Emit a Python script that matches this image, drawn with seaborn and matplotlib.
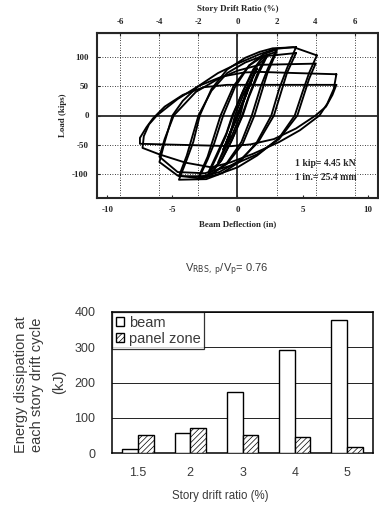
import numpy as np
import pandas as pd
import matplotlib
matplotlib.use("Agg")
import matplotlib.pyplot as plt
from matplotlib.patches import Patch
import seaborn as sns

# hysteresis cycles: (beam deflection in, load kips)
cyc_1 = [(0.56, 30), (0.0, 1), (-0.56, -29), (0.0, -1), (0.56, 30)]
cyc_2 = [(0.75, 40), (0.05, 3), (-0.75, -39), (-0.05, -3), (0.75, 40)]
cyc_3 = [(1.1, 60), (0.15, 6), (-1.1, -58), (-0.15, -6), (1.1, 60)]
cyc_4 = [(1.5, 80), (0.6, 35), (0.2, 0), (-0.5, -38), (-1.5, -80), (-0.6, -35),
         (-0.2, 0), (0.5, 38), (1.5, 80)]
cyc_5 = [(2.25, 103), (1.6, 75), (0.9, 35), (0.35, 0), (-0.4, -40), (-1.2, -75),
         (-1.8, -92), (-2.25, -100), (-1.6, -70), (-0.9, -35), (-0.35, 0), (0.4, 40),
         (1.2, 78), (1.8, 95), (2.25, 103)]
cyc_6 = [(2.25, 100), (1.6, 70), (0.85, 30), (0.4, 0), (-0.5, -45), (-1.3, -78),
         (-2.25, -97), (-1.6, -66), (-0.85, -30), (-0.4, 0), (0.5, 45), (1.4, 82),
         (2.25, 100)]
cyc_7 = [(3.0, 112), (2.3, 78), (1.8, 50), (1.1, 0), (0.3, -45), (-0.8, -80),
         (-2.0, -100), (-3.0, -108), (-2.3, -75), (-1.8, -48), (-1.1, 0), (-0.2, 48),
         (0.9, 85), (2.0, 104), (3.0, 112)]
cyc_8 = [(3.0, 108), (2.3, 72), (1.3, 0), (0.4, -48), (-0.8, -82), (-2.0, -99),
         (-3.0, -105), (-2.3, -70), (-1.3, 0), (-0.3, 50), (0.9, 85), (2.0, 101),
         (3.0, 108)]
cyc_9 = [(4.5, 116), (3.8, 80), (3.2, 45), (2.6, 0), (1.5, -45), (0.2, -78),
         (-1.2, -98), (-2.4, -108), (-4.5, -109), (-3.9, -75), (-3.4, -45), (-2.9, 0),
         (-2.0, 45), (-0.8, 78), (0.6, 98), (1.7, 108), (2.7, 114), (4.5, 116)]
cyc_10 = [(4.5, 106), (3.8, 72), (2.8, 0), (1.6, -45), (0.2, -76), (-1.4, -96),
          (-2.6, -103), (-4.5, -103), (-3.9, -68), (-3.0, 0), (-2.0, 42), (-0.8, 72),
          (0.6, 90), (1.8, 100), (4.5, 106)]
cyc_11 = [(6.1, 102), (5.5, 72), (5.0, 40), (4.4, 0), (3.2, -38), (1.5, -68),
          (0.0, -88), (-1.5, -100), (-2.8, -107), (-4.6, -102), (-6.0, -79),
          (-5.6, -45), (-5.0, 0), (-4.2, 25), (-3.0, 50), (-1.5, 72), (0.0, 88),
          (1.7, 104), (2.9, 113), (4.3, 116), (6.1, 102)]
cyc_12 = [(6.0, 88), (5.5, 62), (4.6, 0), (3.2, -40), (1.5, -66), (-0.5, -85),
          (-2.5, -98), (-4.6, -96), (-6.0, -70), (-5.6, -40), (-4.9, 0), (-3.2, 40),
          (-1.5, 62), (0.0, 76), (1.7, 86), (6.0, 88)]
cyc_13 = [(7.6, 70), (7.4, 45), (6.9, 20), (6.3, 0), (4.8, -25), (3.2, -45),
          (1.2, -65), (-0.6, -80), (-2.0, -88), (-4.0, -80), (-6.0, -66), (-7.3, -55),
          (-7.2, -35), (-6.8, -15), (-6.2, 0), (-4.6, 28), (-3.0, 50), (-1.2, 66),
          (0.5, 73), (1.7, 74), (4.5, 72), (7.6, 70)]
cyc_14 = [(7.6, 52), (7.3, 35), (6.8, 15), (6.0, 0), (4.5, -22), (2.8, -40),
          (1.0, -49), (-0.5, -52), (-7.5, -48), (-7.5, -38), (-7.0, -20), (-6.5, -5),
          (-5.6, 15), (-4.2, 35), (-2.6, 48), (-0.8, 52), (7.6, 52)]
cycles = [cyc_1, cyc_2, cyc_3, cyc_4, cyc_5, cyc_6, cyc_7, cyc_8, cyc_9,
          cyc_10, cyc_11, cyc_12, cyc_13, cyc_14]

defl_ticks = [-10, -5, 0, 5, 10]
load_ticks = [-100, -50, 0, 50, 100]
drift_ticks = [-6, -4, -2, 0, 2, 4, 6]

# energy dissipation bars
drift_labels = ["1.5", "2", "3", "4", "5"]
beam_energy = [10, 57, 172, 292, 378]
pz_energy = [50, 70, 50, 45, 16]

sns.set_style("ticks")
plt.rcParams["font.family"] = ["Liberation Sans", "DejaVu Sans"]
plt.rcParams["hatch.linewidth"] = 0.5

W, H = 379, 507
fig = plt.figure(figsize=(W / 100, H / 100), dpi=100)


def fx(px):
    return px / W


def fy(py):
    return 1 - py / H


serif = dict(family=["Liberation Serif", "DejaVu Serif"], fontweight="bold", fontsize=6.4)
gray = "#3a3a3a"

# ---- top: hysteresis ----
ax1 = fig.add_axes([fx(97), fy(198), fx(378) - fx(97), fy(33) - fy(198)])
for c in cycles:
    xs = [p[0] for p in c]
    ys = [p[1] for p in c]
    sns.lineplot(x=xs, y=ys, sort=False, estimator=None, color="black",
                 linewidth=1.35, ax=ax1)
ax1.set_xlim(-10.8, 10.8)
ax1.set_ylim(-140, 140)
ax1.axhline(0, color="black", linewidth=1.1, zorder=0)
ax1.axvline(0, color="black", linewidth=1.1, zorder=0)
for v in [50, 100, -50, -100]:
    ax1.axhline(v, color="black", linewidth=0.6, linestyle=(0, (1, 2)), zorder=0)
for d in drift_ticks:
    if d != 0:
        ax1.axvline(d * 1.5, color="black", linewidth=0.6, linestyle=(0, (1, 2)), zorder=0)
ax1.set_xticks(defl_ticks)
ax1.set_yticks(load_ticks)
ax1.set_xticklabels([str(t) for t in defl_ticks], **serif)
ax1.set_yticklabels([str(t) for t in load_ticks], **serif)
ax1.tick_params(direction="in", length=2, width=0.8, pad=6)
for s in ax1.spines.values():
    s.set_linewidth(1.5)
ax1.set_xlabel("Beam Deflection (in)", labelpad=4, **serif)
ax1.set_ylabel("Load (kips)", labelpad=4, **serif)
sec = ax1.secondary_xaxis("top", functions=(lambda d: d / 1.5, lambda r: r * 1.5))
sec.set_xticks(drift_ticks)
sec.set_xticklabels([str(t) for t in drift_ticks], **serif)
sec.tick_params(direction="in", length=2, width=0.8, pad=5)
sec.set_xlabel("Story Drift Ratio (%)", labelpad=5, **serif)
note = dict(serif, fontsize=7)
ax1.text(4.4, -81, "1 kip= 4.45 kN", va="center", ha="left", **note)
ax1.text(4.4, -105, "1 in.= 25.4 mm", va="center", ha="left", **note)

# ---- middle caption ----
fig.text(fx(227), fy(270), r"V$_{\rm RBS,\ p}$/V$_{\rm p}$= 0.76", ha="center",
         va="center", fontsize=8, color=gray)

# ---- bottom: energy bars ----
ax2 = fig.add_axes([fx(112), fy(453), fx(373) - fx(112), fy(312) - fy(453)])
df = pd.DataFrame({
    "drift": drift_labels * 2,
    "energy": beam_energy + pz_energy,
    "part": ["beam"] * 5 + ["panel zone"] * 5,
})
sns.barplot(data=df, x="drift", y="energy", hue="part", width=0.6,
            palette=["white", "white"], edgecolor="black", linewidth=1.0,
            ax=ax2, legend=False, zorder=3)
for bar in ax2.containers[1]:
    bar.set_hatch("//////")
ax2.set_ylim(0, 400)
ax2.set_yticks([0, 100, 200, 300, 400])
ax2.yaxis.grid(True, color="#222222", linewidth=0.7)
ax2.set_axisbelow(True)
ax2.tick_params(length=0, labelsize=9, labelcolor=gray)
ax2.tick_params(axis="y", pad=12)
ax2.tick_params(axis="x", pad=10)
for s in ax2.spines.values():
    s.set_linewidth(1.1)
    s.set_color("black")
ax2.set_xlabel("")
ax2.set_ylabel("")
handles = [Patch(facecolor="white", edgecolor="black", linewidth=1.0, label="beam"),
           Patch(facecolor="white", edgecolor="black", linewidth=1.0, hatch="//////",
                 label="panel zone")]
leg = ax2.legend(handles=handles, loc="upper left", frameon=True, fancybox=False,
                 borderaxespad=0, handlelength=0.6, handleheight=0.6,
                 handletextpad=0.3, fontsize=10.5, borderpad=0.25, labelspacing=0.15)
leg.get_frame().set_edgecolor("black")
leg.get_frame().set_linewidth(0.9)
for t in leg.get_texts():
    t.set_color(gray)

fig.text(fx(220), fy(496), "Story drift ratio (%)", ha="center", va="center",
         fontsize=8.3, color=gray)
fig.text(fx(21), fy(385), "Energy dissipation at", rotation=90, ha="center",
         va="center", fontsize=10.5, color=gray)
fig.text(fx(37), fy(385), "each story drift cycle", rotation=90, ha="center",
         va="center", fontsize=10.5, color=gray)
fig.text(fx(59), fy(382), "(kJ)", rotation=90, ha="center", va="center",
         fontsize=10.5, color=gray)

fig.savefig("out.png", dpi=100)
